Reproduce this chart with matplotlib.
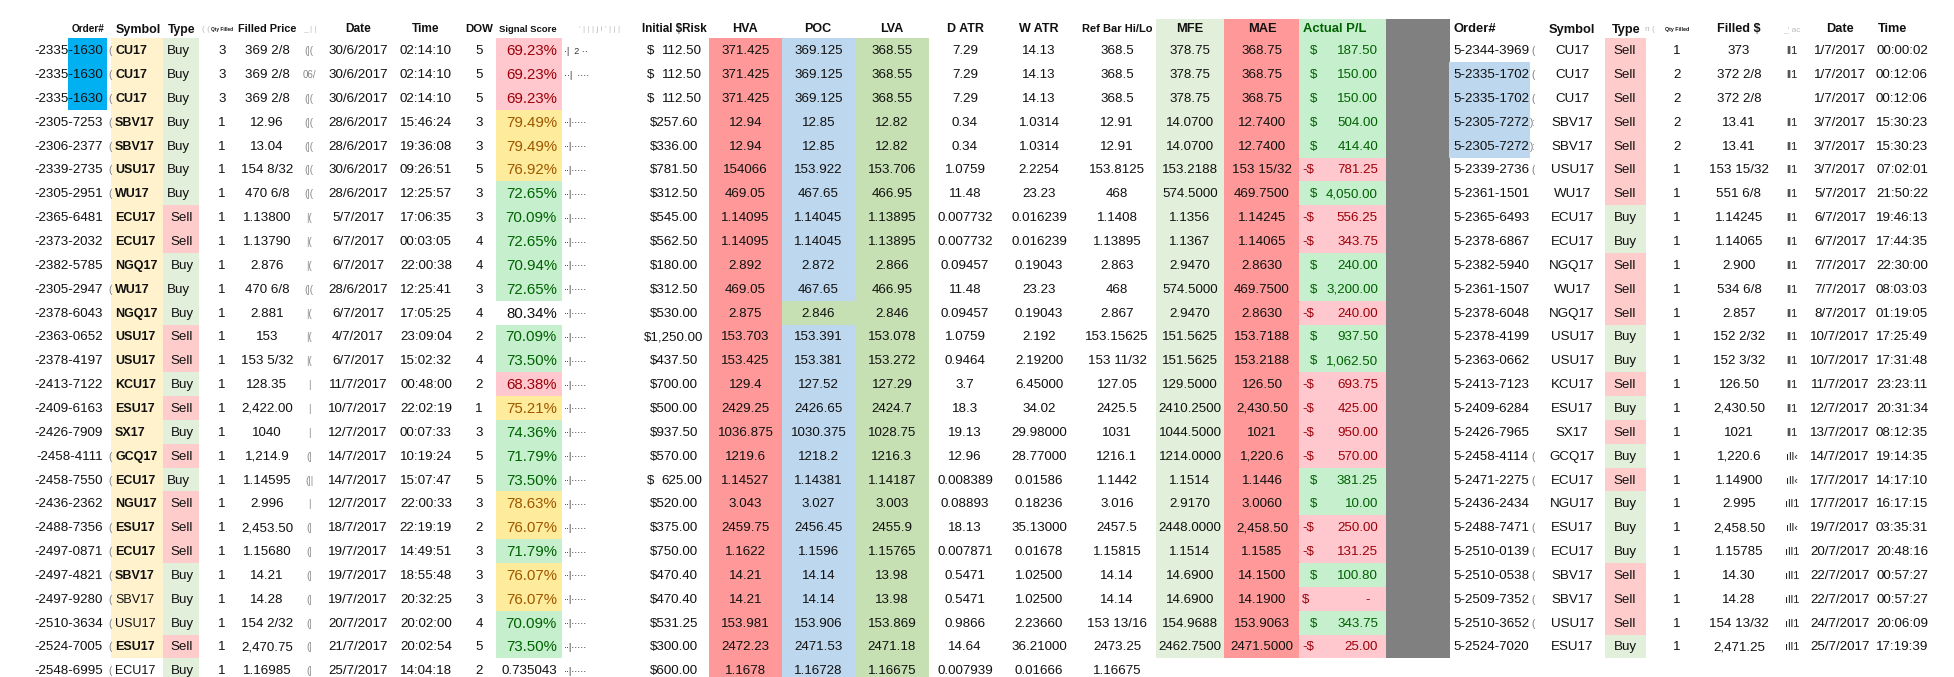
import matplotlib.pyplot as plt
from matplotlib.patches import Rectangle

plt.rcParams['font.family'] = ['Liberation Sans', 'DejaVu Sans']

# ---- entry trades (left block) ----
order_ids = ["-2335-1630", "-2335-1630", "-2335-1630", "-2305-7253", "-2306-2377", "-2339-2735",
             "-2305-2951", "-2365-6481", "-2373-2032", "-2382-5785", "-2305-2947", "-2378-6043",
             "-2363-0652", "-2378-4197", "-2413-7122", "-2409-6163", "-2426-7909", "-2458-4111",
             "-2458-7550", "-2436-2362", "-2488-7356", "-2497-0871", "-2497-4821", "-2497-9280",
             "-2510-3634", "-2524-7005", "-2548-6995"]
symbols = ["CU17", "CU17", "CU17", "SBV17", "SBV17", "USU17", "WU17", "ECU17", "ECU17", "NGQ17",
           "WU17", "NGQ17", "USU17", "USU17", "KCU17", "ESU17", "SX17", "GCQ17", "ECU17", "NGU17",
           "ESU17", "ECU17", "SBV17", "SBV17", "USU17", "ESU17", "ECU17"]
symbol_bold = [True] * 23 + [False, False, True, False]
sides = ["Buy", "Buy", "Buy", "Buy", "Buy", "Buy", "Buy", "Sell", "Sell", "Buy", "Buy", "Buy",
         "Sell", "Sell", "Buy", "Sell", "Buy", "Sell", "Buy", "Sell", "Sell", "Sell", "Buy", "Buy",
         "Buy", "Sell", "Buy"]
qty = [3, 3, 3] + [1] * 24
fill_price = ["369 2/8", "369 2/8", "369 2/8", "12.96", "13.04", "154 8/32", "470 6/8", "1.13800",
              "1.13790", "2.876", "470 6/8", "2.881", "153", "153 5/32", "128.35", "2,422.00", "1040",
              "1,214.9", "1.14595", "2.996", "2,453.50", "1.15680", "14.21", "14.28", "154 2/32",
              "2,470.75", "1.16985"]
dates = ["30/6/2017", "30/6/2017", "30/6/2017", "28/6/2017", "28/6/2017", "30/6/2017", "28/6/2017",
         "5/7/2017", "6/7/2017", "6/7/2017", "28/6/2017", "6/7/2017", "4/7/2017", "6/7/2017",
         "11/7/2017", "10/7/2017", "12/7/2017", "14/7/2017", "14/7/2017", "12/7/2017", "18/7/2017",
         "19/7/2017", "19/7/2017", "19/7/2017", "20/7/2017", "21/7/2017", "25/7/2017"]
times = ["02:14:10", "02:14:10", "02:14:10", "15:46:24", "19:36:08", "09:26:51", "12:25:57",
         "17:06:35", "00:03:05", "22:00:38", "12:25:41", "17:05:25", "23:09:04", "15:02:32",
         "00:48:00", "22:02:19", "00:07:33", "10:19:24", "15:07:47", "22:00:33", "22:19:19",
         "14:49:51", "18:55:48", "20:32:25", "20:02:00", "20:02:54", "14:04:18"]
dow = [5, 5, 5, 3, 3, 5, 3, 3, 4, 4, 3, 4, 2, 4, 2, 1, 3, 5, 5, 3, 2, 3, 3, 3, 4, 5, 2]
signal = ["69.23%", "69.23%", "69.23%", "79.49%", "79.49%", "76.92%", "72.65%", "70.09%", "72.65%",
          "70.94%", "72.65%", "80.34%", "70.09%", "73.50%", "68.38%", "75.21%", "74.36%", "71.79%",
          "73.50%", "78.63%", "76.07%", "71.79%", "76.07%", "76.07%", "70.09%", "73.50%", "0.735043"]
signal_band = ["r", "r", "r", "y", "y", "y", "g", "g", "g", "g", "g", "", "g", "g", "r", "y", "g",
               "g", "g", "y", "y", "g", "y", "y", "g", "g", ""]
risk = ["$  112.50", "$  112.50", "$  112.50", "$257.60", "$336.00", "$781.50", "$312.50",
        "$545.00", "$562.50", "$180.00", "$312.50", "$530.00", "$1,250.00", "$437.50", "$700.00",
        "$500.00", "$937.50", "$570.00", "$  625.00", "$520.00", "$375.00", "$750.00", "$470.40",
        "$470.40", "$531.25", "$300.00", "$600.00"]
hva = ["371.425", "371.425", "371.425", "12.94", "12.94", "154066", "469.05", "1.14095", "1.14095",
       "2.892", "469.05", "2.875", "153.703", "153.425", "129.4", "2429.25", "1036.875", "1219.6",
       "1.14527", "3.043", "2459.75", "1.1622", "14.21", "14.21", "153.981", "2472.23", "1.1678"]
poc = ["369.125", "369.125", "369.125", "12.85", "12.85", "153.922", "467.65", "1.14045", "1.14045",
       "2.872", "467.65", "2.846", "153.391", "153.381", "127.52", "2426.65", "1030.375", "1218.2",
       "1.14381", "3.027", "2456.45", "1.1596", "14.14", "14.14", "153.906", "2471.53", "1.16728"]
lva = ["368.55", "368.55", "368.55", "12.82", "12.82", "153.706", "466.95", "1.13895", "1.13895",
       "2.866", "466.95", "2.846", "153.078", "153.272", "127.29", "2424.7", "1028.75", "1216.3",
       "1.14187", "3.003", "2455.9", "1.15765", "13.98", "13.98", "153.869", "2471.18", "1.16675"]
d_atr = ["7.29", "7.29", "7.29", "0.34", "0.34", "1.0759", "11.48", "0.007732", "0.007732",
         "0.09457", "11.48", "0.09457", "1.0759", "0.9464", "3.7", "18.3", "19.13", "12.96",
         "0.008389", "0.08893", "18.13", "0.007871", "0.5471", "0.5471", "0.9866", "14.64", "0.007939"]
w_atr = ["14.13", "14.13", "14.13", "1.0314", "1.0314", "2.2254", "23.23", "0.016239", "0.016239",
         "0.19043", "23.23", "0.19043", "2.192", "2.19200", "6.45000", "34.02", "29.98000",
         "28.77000", "0.01586", "0.18236", "35.13000", "0.01678", "1.02500", "1.02500", "2.23660",
         "36.21000", "0.01666"]
ref_bar = ["368.5", "368.5", "368.5", "12.91", "12.91", "153.8125", "468", "1.1408", "1.13895",
           "2.863", "468", "2.867", "153.15625", "153 11/32", "127.05", "2425.5", "1031", "1216.1",
           "1.1442", "3.016", "2457.5", "1.15815", "14.14", "14.14", "153 13/16", "2473.25", "1.16675"]
mfe = ["378.75", "378.75", "378.75", "14.0700", "14.0700", "153.2188", "574.5000", "1.1356",
       "1.1367", "2.9470", "574.5000", "2.9470", "151.5625", "151.5625", "129.5000", "2410.2500",
       "1044.5000", "1214.0000", "1.1514", "2.9170", "2448.0000", "1.1514", "14.6900", "14.6900",
       "154.9688", "2462.7500"]
mae = ["368.75", "368.75", "368.75", "12.7400", "12.7400", "153 15/32", "469.7500", "1.14245",
       "1.14065", "2.8630", "469.7500", "2.8630", "153.7188", "153.2188", "126.50", "2,430.50",
       "1021", "1,220.6", "1.1446", "3.0060", "2,458.50", "1.1585", "14.1500", "14.1900",
       "153.9063", "2471.5000"]
pnl = [187.50, 150.00, 150.00, 504.00, 414.40, -781.25, 4050.00, -556.25, -343.75, 240.00,
       3200.00, -240.00, 937.50, 1062.50, -693.75, -425.00, -950.00, -570.00, 381.25, 10.00,
       -250.00, -131.25, 100.80, 0.00, 343.75, -25.00]

# clipped bits of hidden columns
frag_a = ["(", "(", "(", "(", "(", "(", "(", "", "", "", "(", "", "", "", "", "", "", "(", "(",
          "", "(", "(", "(", "(", "(", "(", "("]
frag_b = ["(|(", "06/", "(|(", "(|(", "(|(", "(|(", "(|(", "|(", "|(", "|(", "(|(", "|(", "|(",
          "|(", "|", "|", "|", "(|", "(||", "|", "(|", "(|", "(|", "(|", "(|", "(|", "(|"]
frag_c = ["·|  2 ··", "··|  ····", ""] + ["··|·····"] * 24

# ---- exit trades (right block) ----
exit_ids = ["5-2344-3969", "5-2335-1702", "5-2335-1702", "5-2305-7272", "5-2305-7272",
            "5-2339-2736", "5-2361-1501", "5-2365-6493", "5-2378-6867", "5-2382-5940",
            "5-2361-1507", "5-2378-6048", "5-2378-4199", "5-2363-0662", "5-2413-7123",
            "5-2409-6284", "5-2426-7965", "5-2458-4114", "5-2471-2275", "5-2436-2434",
            "5-2488-7471", "5-2510-0139", "5-2510-0538", "5-2509-7352", "5-2510-3652", "5-2524-7020"]
exit_symbols = ["CU17", "CU17", "CU17", "SBV17", "SBV17", "USU17", "WU17", "ECU17", "ECU17",
                "NGQ17", "WU17", "NGQ17", "USU17", "USU17", "KCU17", "ESU17", "SX17", "GCQ17",
                "ECU17", "NGU17", "ESU17", "ECU17", "SBV17", "SBV17", "USU17", "ESU17"]
exit_sides = ["Sell"] * 7 + ["Buy", "Buy", "Sell", "Sell", "Sell", "Buy", "Buy", "Sell", "Buy",
                             "Sell", "Buy", "Sell", "Buy", "Buy", "Buy", "Sell", "Sell", "Sell", "Buy"]
exit_qty = [1, 2, 2, 2, 2] + [1] * 21
exit_price = ["373", "372 2/8", "372 2/8", "13.41", "13.41", "153 15/32", "551 6/8", "1.14245",
              "1.14065", "2.900", "534 6/8", "2.857", "152 2/32", "152 3/32", "126.50", "2,430.50",
              "1021", "1,220.6", "1.14900", "2.995", "2,458.50", "1.15785", "14.30", "14.28",
              "154 13/32", "2,471.25"]
exit_dates = ["1/7/2017", "1/7/2017", "1/7/2017", "3/7/2017", "3/7/2017", "3/7/2017", "5/7/2017",
              "6/7/2017", "6/7/2017", "7/7/2017", "7/7/2017", "8/7/2017", "10/7/2017", "10/7/2017",
              "11/7/2017", "12/7/2017", "13/7/2017", "14/7/2017", "17/7/2017", "17/7/2017",
              "19/7/2017", "20/7/2017", "22/7/2017", "22/7/2017", "24/7/2017", "25/7/2017"]
exit_times = ["00:00:02", "00:12:06", "00:12:06", "15:30:23", "15:30:23", "07:02:01", "21:50:22",
              "19:46:13", "17:44:35", "22:30:00", "08:03:03", "01:19:05", "17:25:49", "17:31:48",
              "23:23:11", "20:31:34", "08:12:35", "19:14:35", "14:17:10", "16:17:15", "03:35:31",
              "20:48:16", "00:57:27", "00:57:27", "20:06:09", "17:19:39"]
frag_d = ["(", "(", "(", "):", "):", "(", "", "", "", "", "", "", "", "", "", "", "", "(", "(",
          "", "(", "(", "(", "(", "(", ""]
frag_e = ["ll1", "ll1", ""] + ["ll1"] * 14 + ["ıll‹", "ıll‹", "ıll1", "ıll‹", "ıll1", "ıll1",
                                              "ıll1", "ıll1", "ıll1"]

# ---- colours ----
C_BUY, C_SELL, C_SYM = "#E2EFDA", "#FFCCCC", "#FFF2CC"
C_HVA, C_POC, C_LVA = "#FF9999", "#BDD7EE", "#C6E0B4"
C_MFE, C_MAE, C_GRAY = "#E2EFDA", "#FF9999", "#808080"
BAND_BG = {"r": "#FFC7CE", "y": "#FFEB9C", "g": "#C6EFCE", "": "white"}
BAND_FG = {"r": "#9C0006", "y": "#9C5700", "g": "#006100", "": "#111111"}
TXT = "#111111"

HEAD_TOP, TOP, RH = 19.0, 38.3, 23.85
FS = 9.6
# rows whose "Buy" sits at the left edge of the cell
buy_left_rows = {0, 1, 2, 3, 4, 5, 6, 10, 18}

fig = plt.figure(figsize=(19.54, 6.77), dpi=100)
ax = fig.add_axes([0, 0, 1, 1])
ax.set_xlim(0, 1954)
ax.set_ylim(677, 0)
ax.axis('off')


def fill(x0, x1, i, color):
    ax.add_patch(Rectangle((x0, TOP + i * RH), x1 - x0, RH, facecolor=color, lw=0))


def put(x, i, s, ha='center', size=FS, color=TXT, **kw):
    ax.text(x, TOP + (i + 0.5) * RH + 1, s, ha=ha, va='center', fontsize=size, color=color, **kw)


# header backgrounds
for x0, x1, c in [(1156, 1224, C_MFE), (1224, 1299, C_MAE), (1299, 1386, "#C6EFCE"), (1386, 1450, C_GRAY)]:
    ax.add_patch(Rectangle((x0, HEAD_TOP), x1 - x0, TOP - HEAD_TOP, facecolor=c, lw=0))

headers = [("Order#", 88, 'center', 7.2, TXT), ("Symbol", 116, 'left', 9.0, TXT),
           ("Type", 168, 'left', 8.7, TXT), ("Qty Filled", 222, 'center', 3.4, TXT),
           ("Filled Price", 267, 'center', 7.8, TXT), ("Date", 358, 'center', 8.6, TXT),
           ("Time", 426, 'center', 8.6, TXT), ("DOW", 479, 'center', 8.2, TXT),
           ("Signal Score", 557, 'right', 6.8, TXT), ("Initial $Risk", 674, 'center', 8.4, TXT),
           ("HVA", 745, 'center', 9.0, TXT), ("POC", 818, 'center', 9.0, TXT),
           ("LVA", 892, 'center', 9.0, TXT), ("D ATR", 965, 'center', 9.0, TXT),
           ("W ATR", 1039, 'center', 9.0, TXT), ("Ref Bar Hi/Lo", 1117, 'center', 8.0, TXT),
           ("MFE", 1190, 'center', 9.3, TXT), ("MAE", 1262, 'center', 9.3, TXT),
           ("Actual P/L", 1303, 'left', 9.4, "#006100"),
           ("Order#", 1453, 'left', 9.4, TXT), ("Symbol", 1572, 'center', 9.3, TXT),
           ("Type", 1612, 'left', 9.2, TXT), ("Qty Filled", 1677, 'center', 3.8, TXT),
           ("Filled $", 1739, 'center', 9.1, TXT), ("Date", 1840, 'center', 9.2, TXT),
           ("Time", 1878, 'left', 9.2, TXT)]
for s, x, ha, sz, c in headers:
    ax.text(x, 29.5, s, ha=ha, va='center', fontsize=sz, color=c, fontweight='bold')
for s, x in [("( (", 206), ("_ | |", 310), ("' | | | j i ' | | |", 600), ("п (", 1650), ("_' ac", 1792)]:
    ax.text(x, 29.5, s, ha='center', va='center', fontsize=6, color="#BBBBBB")

# left block
for i in range(len(order_ids)):
    if i < 3:
        fill(68, 107, i, "#00B0F0")
    if i < 26:
        fill(111, 163, i, C_SYM)
    fill(163, 199, i, C_BUY if sides[i] == "Buy" else C_SELL)
    fill(496, 562, i, BAND_BG[signal_band[i]])
    fill(709, 782, i, C_HVA)
    fill(782, 855, i, C_LVA if i == 11 else C_POC)
    fill(855, 929, i, C_LVA)

    put(103, i, order_ids[i], ha='right')
    put(110, i, frag_a[i], size=7, color="#777777")
    put(115, i, symbols[i], ha='left', size=9.0,
        fontweight='bold' if symbol_bold[i] else 'normal')
    if sides[i] == "Buy" and i in buy_left_rows:
        put(167, i, sides[i], ha='left')
    else:
        put(182, i, sides[i])
    put(222, i, str(qty[i]))
    put(267, i, fill_price[i])
    put(309, i, frag_b[i], size=7, color="#888888")
    put(358, i, dates[i])
    put(426, i, times[i])
    put(479, i, str(dow[i]))
    put(557, i, signal[i], ha='right', size=10.8 if signal[i].endswith("%") else 9.6,
        color=BAND_FG[signal_band[i]])
    put(564, i, frag_c[i], ha='left', size=6.5, color="#333333")
    if risk[i].startswith("$  "):
        put(647, i, "$", ha='left')
        put(702, i, risk[i][3:], ha='right')
    else:
        put(674, i, risk[i])
    put(745.5, i, hva[i])
    put(818.5, i, poc[i])
    put(892, i, lva[i])
    put(965, i, d_atr[i])
    put(1039, i, w_atr[i])
    put(1117, i, ref_bar[i])

# result columns
for i in range(len(pnl)):
    fill(1156, 1224, i, C_MFE)
    fill(1224, 1299, i, C_MAE)
    fill(1386, 1450, i, C_GRAY)
    win = pnl[i] > 0
    fill(1299, 1386, i, "#C6EFCE" if win else "#FFC7CE")
    put(1190, i, mfe[i])
    put(1262, i, mae[i])
    col = "#006100" if win else "#9C0006"
    if win:
        put(1310, i, "$", ha='left', color=col)
    else:
        put(1302, i, "-$" if pnl[i] < 0 else "$", ha='left', color=col)
    put(1378 if pnl[i] != 0 else 1370, i,
        f"{abs(pnl[i]):,.2f}" if pnl[i] != 0 else "-", ha='right', color=col)

# right block
for i in range(len(exit_ids)):
    if 1 <= i <= 4:
        fill(1449, 1530, i, C_POC)
    fill(1605, 1646, i, C_BUY if exit_sides[i] == "Buy" else C_SELL)
    put(1453, i, exit_ids[i], ha='left')
    put(1533, i, frag_d[i], size=7, color="#777777")
    put(1572, i, exit_symbols[i])
    put(1625, i, exit_sides[i])
    put(1677, i, str(exit_qty[i]))
    put(1739, i, exit_price[i])
    put(1792, i, frag_e[i], size=8, color="#222222")
    put(1840, i, exit_dates[i])
    put(1902, i, exit_times[i])

fig.savefig("out.png", dpi=100, facecolor="white")
